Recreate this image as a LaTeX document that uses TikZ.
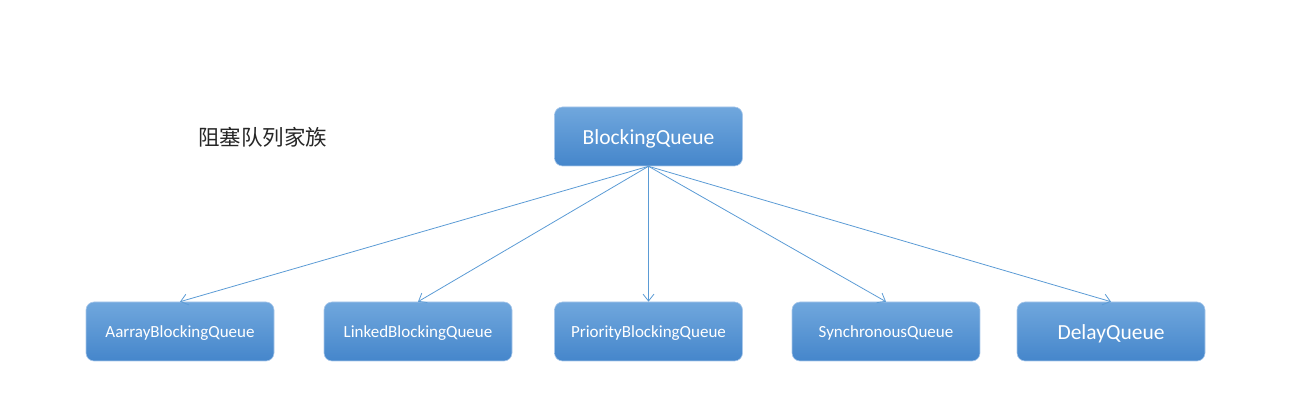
\documentclass[tikz,border=0pt]{standalone}
\usepackage{fontspec}
\setmainfont{Carlito}
\newfontfamily\cjk{Noto Sans CJK SC}
\usetikzlibrary{arrows.meta}
\definecolor{linec}{HTML}{5B9BD5}
\definecolor{topc}{HTML}{70A7DD}
\definecolor{botc}{HTML}{4586CB}
\definecolor{edgec}{HTML}{A9C8EA}
\tikzset{
  qbox/.style={rounded corners=8pt, minimum width=188pt, minimum height=59pt,
    top color=topc, bottom color=botc, draw=edgec, line width=0.6pt,
    text=white, inner sep=0pt, text depth=0pt},
  bigtxt/.style={font=\fontsize{21.5}{25}\selectfont, text height=16pt},
  smalltxt/.style={font=\fontsize{17}{20}\selectfont, text height=13pt},
  conn/.style={draw=linec, line width=0.8pt, -{Straight Barb[length=7pt,width=11pt]}}
}
\begin{document}
\begin{tikzpicture}[x=1pt,y=-1pt]
\useasboundingbox (0,0) rectangle (1307,419);
\node[qbox,bigtxt] (bq) at (648.5,136.5) {BlockingQueue};
\node[font=\cjk\fontsize{21.5}{25}\selectfont, text=black!85, inner sep=0pt] (title) at (262.5,137) {阻塞队列家族};
\node[qbox,smalltxt] (a) at (180,331.5) {AarrayBlockingQueue};
\node[qbox,smalltxt] (l) at (418,331.5) {LinkedBlockingQueue};
\node[qbox,smalltxt] (p) at (648.5,331.5) {PriorityBlockingQueue};
\node[qbox,smalltxt] (s) at (886,331.5) {SynchronousQueue};
\node[qbox,bigtxt] (d) at (1111,331.5) {DelayQueue};
\foreach \n in {a,l,p,s,d}{
  \draw[conn] (bq.south) -- (\n.north);
}
\end{tikzpicture}
\end{document}
